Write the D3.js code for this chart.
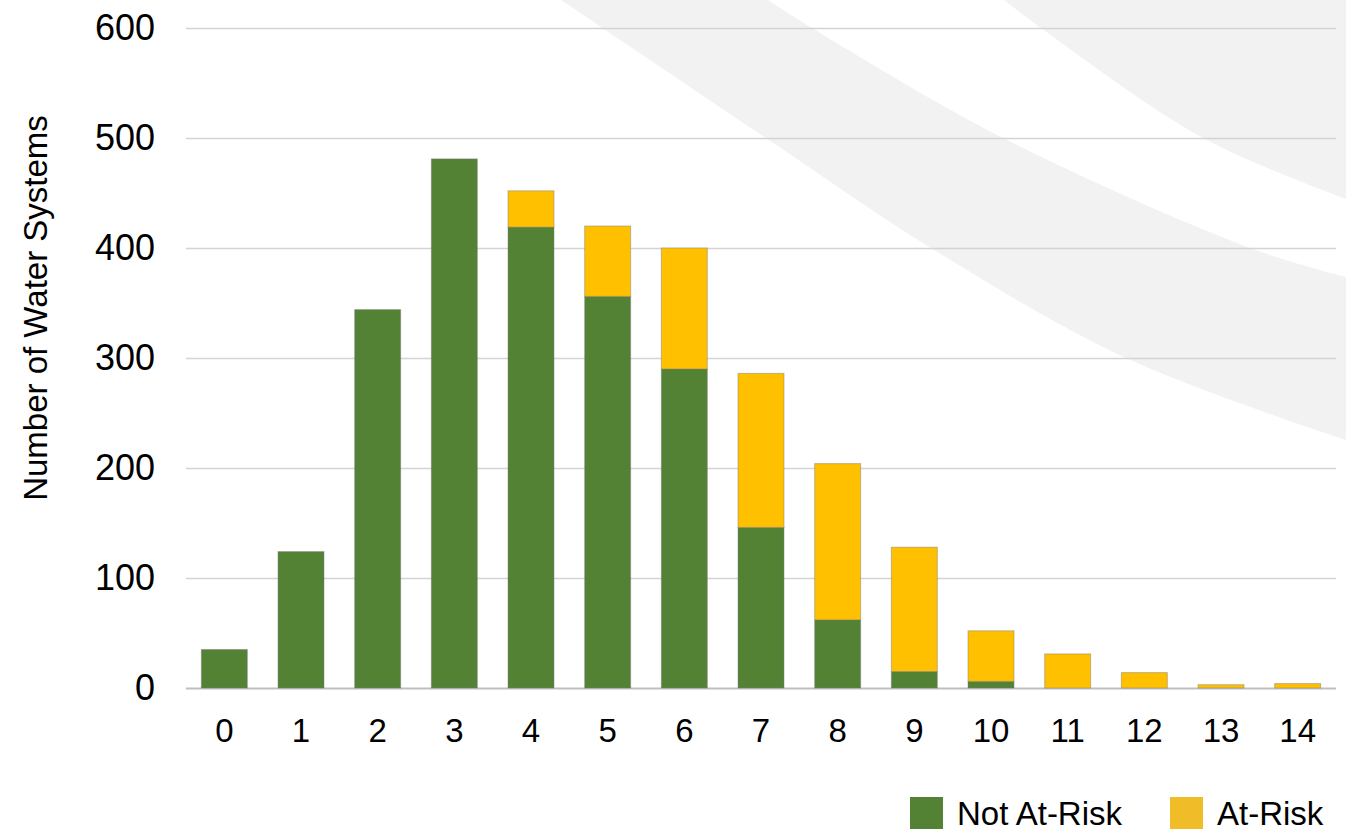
<!DOCTYPE html>
<html>
<head>
<meta charset="utf-8">
<script src="https://cdn.jsdelivr.net/npm/d3@7"></script>
<style>
  body { margin: 0; background: #fff; }
  text { font-family: "Liberation Sans", Arial, sans-serif; fill: #000; }
</style>
</head>
<body>
<svg id="chart"></svg>
<script>
// data
const categories = ["0","1","2","3","4","5","6","7","8","9","10","11","12","13","14"];
const notAtRisk = [35, 124, 344, 481, 419, 356, 290, 146, 62, 15, 6, 0, 0, 0, 0];
const atRisk    = [0, 0, 0, 0, 33, 64, 110, 140, 142, 113, 46, 31, 14, 3, 4];
const seriesNames = ["Not At-Risk", "At-Risk"];
const yTicks = [0, 100, 200, 300, 400, 500, 600];

const W = 1346, H = 836;
const margin = { top: 28, right: 10, bottom: 148, left: 186 };
const w = W - margin.left - margin.right;
const h = H - margin.top - margin.bottom;

const color = d3.scaleOrdinal().domain(seriesNames).range(["#548235", "#ffc000"]);
const legendColor = d3.scaleOrdinal().domain(seriesNames).range(["#548235", "#f0bc28"]);

const svg = d3.select("#chart")
    .attr("width", W)
    .attr("height", H);

svg.append("rect").attr("width", W).attr("height", H).attr("fill", "#fff");

// decorative grey swooshes in the background (top right)
const bg = svg.append("g").attr("class", "background");
const curve = d3.line().curve(d3.curveCatmullRom);
const band1Left  = [[561,0],[766,138],[931,248],[1126,358],[1346,440]];
const band1Right = [[1346,277],[1250,248],[1003,138],[812,28],[768,0]];
const band2Left  = [[1004,0],[1041,28],[1203,138],[1346,199]];
bg.append("path")
    .attr("d", curve(band1Left) + "L" + curve(band1Right).slice(1) + "Z")
    .attr("fill", "#f2f2f2");
bg.append("path")
    .attr("d", curve(band2Left) + "L1346,0Z")
    .attr("fill", "#f2f2f2");

const g = svg.append("g")
    .attr("transform", `translate(${margin.left},${margin.top})`);

const x = d3.scaleBand()
    .domain(categories)
    .range([0, w])
    .paddingInner(0.4)
    .paddingOuter(0.2);

const y = d3.scaleLinear()
    .domain([0, 600])
    .range([h, 0]);

// gridlines
g.append("g")
    .attr("class", "grid")
    .call(d3.axisLeft(y).tickValues(yTicks).tickSize(-w).tickFormat(""))
    .call(s => s.select(".domain").remove())
    .call(s => s.selectAll("line")
        .attr("stroke", d => d === 0 ? "#bfbfbf" : "#d4d4d4")
        .attr("stroke-width", d => d === 0 ? 2 : 1.5));

// y tick labels
g.append("g")
    .attr("class", "y axis")
    .call(d3.axisLeft(y).tickValues(yTicks).tickSize(0).tickPadding(31))
    .call(s => s.select(".domain").remove())
    .call(s => s.selectAll("text")
        .style("font-size", "36px")
        .attr("fill", "#000"));

// x tick labels
g.append("g")
    .attr("class", "x axis")
    .attr("transform", `translate(0,${h})`)
    .call(d3.axisBottom(x).tickSize(0).tickPadding(31))
    .call(s => s.select(".domain").remove())
    .call(s => s.selectAll("text")
        .style("font-size", "33px")
        .attr("fill", "#000"));

// y axis title
g.append("text")
    .attr("transform", "rotate(-90)")
    .attr("x", -(308 - margin.top))
    .attr("y", -186 + 47)
    .attr("text-anchor", "middle")
    .style("font-size", "33px")
    .text("Number of Water Systems");

// stacked bars
const rows = categories.map((c, i) => ({ cat: c, "Not At-Risk": notAtRisk[i], "At-Risk": atRisk[i] }));
const stacked = d3.stack().keys(seriesNames)(rows);

g.selectAll(".series")
    .data(stacked)
    .enter()
    .append("g")
    .attr("class", "series")
    .attr("fill", d => color(d.key))
    .selectAll("rect")
    .data(d => d.filter(p => p[1] > p[0]))
    .enter()
    .append("rect")
    .attr("x", d => x(d.data.cat))
    .attr("width", x.bandwidth())
    .attr("y", d => y(d[1]))
    .attr("height", d => y(d[0]) - y(d[1]))
    .attr("stroke", "rgba(120,120,120,0.45)")
    .attr("stroke-width", 1);

// legend
const legend = svg.append("g")
    .attr("class", "legend")
    .attr("transform", `translate(910,797)`);

const legendItems = legend.selectAll(".legend-item")
    .data(seriesNames)
    .enter()
    .append("g")
    .attr("class", "legend-item")
    .attr("transform", (d, i) => `translate(${i * 260},0)`);

legendItems.append("rect")
    .attr("width", 33)
    .attr("height", 32)
    .attr("fill", d => legendColor(d));

legendItems.append("text")
    .attr("x", 47)
    .attr("y", 16)
    .attr("dy", "0.35em")
    .style("font-size", "33px")
    .text(d => d);
</script>
</body>
</html>
